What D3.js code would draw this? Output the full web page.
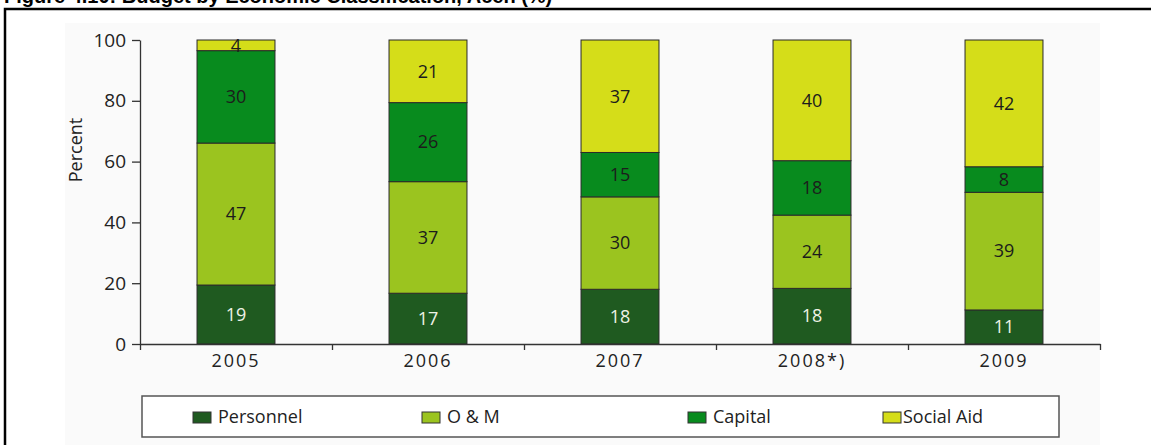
<!DOCTYPE html>
<html>
<head>
<meta charset="utf-8">
<script src="https://cdn.jsdelivr.net/npm/d3@7"></script>
<style>
  body { margin: 0; background: #fff; }
  svg { display: block; font-family: "Open Sans", sans-serif; }
</style>
</head>
<body>
<div id="chart"></div>
<script>
// data (percent of budget)
const years = ["2005", "2006", "2007", "2008*)", "2009"]
const personnel = [19.4, 16.7, 18.0, 18.3, 11.2]
const om = [46.7, 36.7, 30.4, 24.1, 38.7]
const capital = [30.4, 26.0, 14.6, 17.9, 8.4]
const socialAid = [3.5, 20.6, 37.0, 39.7, 41.7]
const seriesNames = ["Personnel", "O & M", "Capital", "Social Aid"]
const yTicks = [0, 20, 40, 60, 80, 100]

const colors = ["#1f5a20", "#9bc41f", "#088b1e", "#d5dd19"]
const labelColors = ["#eef2e6", "#1c1c1c", "#1c1c1c", "#1c1c1c"]

const width = 1151, height = 445

const svg = d3.select("#chart").append("svg")
    .attr("width", width)
    .attr("height", height)

// title, only its lower edge shows at the top of the picture
svg.append("text")
    .attr("x", 4)
    .attr("y", 3)
    .attr("font-family", "Liberation Sans, sans-serif")
    .attr("font-weight", "bold")
    .attr("font-size", 20)
    .text("Figure 4.10: Budget by Economic Classification, Aceh (%)")

// outer frame
svg.append("rect")
    .attr("x", 5).attr("y", 9)
    .attr("width", 1300).attr("height", 600)
    .attr("fill", "#fff")
    .attr("stroke", "#000").attr("stroke-width", 2.5)

// light plot panel
svg.append("rect")
    .attr("x", 65).attr("y", 23)
    .attr("width", 1035).attr("height", 440)
    .attr("fill", "#fafafa")

const table = years.map((yr, i) => ({
    year: yr,
    "Personnel": personnel[i],
    "O & M": om[i],
    "Capital": capital[i],
    "Social Aid": socialAid[i]
}))

const stacked = d3.stack().keys(seriesNames)(table)

const x = d3.scaleBand()
    .domain(years)
    .range([140, 1100])
    .paddingInner(0.594)
    .paddingOuter(0.297)

const y = d3.scaleLinear()
    .domain([0, 100])
    .range([344, 40])

// bars
const layers = svg.selectAll("g.layer")
    .data(stacked)
    .enter().append("g")
    .attr("class", "layer")

layers.selectAll("rect")
    .data(d => d)
    .enter().append("rect")
    .attr("x", d => x(d.data.year))
    .attr("y", d => y(d[1]))
    .attr("width", x.bandwidth())
    .attr("height", d => y(d[0]) - y(d[1]))
    .attr("fill", function () { return colors[d3.select(this.parentNode).datum().index] })
    .attr("stroke", "#2a2a2a")
    .attr("stroke-width", 1)

layers.each(function (s) {
    d3.select(this).selectAll("text")
        .data(s)
        .enter().append("text")
        .attr("x", d => x(d.data.year) + x.bandwidth() / 2)
        .attr("y", d => (y(d[0]) + y(d[1])) / 2)
        .attr("dy", "0.35em")
        .attr("text-anchor", "middle")
        .attr("font-size", 18)
        .attr("fill", labelColors[s.index])
        .text(d => Math.round(d[1] - d[0]))
})

// y axis
const yAxis = d3.axisLeft(y)
    .tickValues(yTicks)
    .tickSize(8)
    .tickSizeOuter(0)
    .tickPadding(6)

const gy = svg.append("g")
    .attr("transform", "translate(140,0)")
    .call(yAxis)
gy.selectAll("text").attr("font-size", 19).attr("fill", "#222").attr("font-family", "Open Sans, sans-serif")
gy.selectAll("line, path").attr("stroke", "#333").attr("stroke-width", 1.3)

// x axis: ticks on band boundaries
const xEdge = d3.scaleLinear().domain([0, years.length]).range([140, 1100])
const gx = svg.append("g")
    .attr("transform", "translate(0,344)")
    .call(d3.axisBottom(xEdge).ticks(years.length).tickFormat("").tickSize(6).tickSizeOuter(0))
gx.selectAll("line, path").attr("stroke", "#333").attr("stroke-width", 1.3)

const gxl = svg.append("g")
    .attr("transform", "translate(0,344)")
    .call(d3.axisBottom(x).tickSize(0).tickPadding(10))
gxl.select(".domain").remove()
gxl.selectAll("text")
    .attr("font-size", 18)
    .attr("letter-spacing", "2px")
    .attr("fill", "#222")
    .attr("font-family", "Open Sans, sans-serif")

svg.append("text")
    .attr("transform", "translate(82,150) rotate(-90)")
    .attr("text-anchor", "middle")
    .attr("font-size", 18)
    .attr("fill", "#222")
    .text("Percent")

// legend
svg.append("rect")
    .attr("x", 142).attr("y", 396)
    .attr("width", 917).attr("height", 41)
    .attr("fill", "#fff")
    .attr("stroke", "#555").attr("stroke-width", 1.5)

const legendX = [193, 422, 688, 883]
const legend = svg.selectAll("g.legend")
    .data(seriesNames)
    .enter().append("g")
    .attr("class", "legend")
    .attr("transform", (d, i) => `translate(${legendX[i]},412)`)

legend.append("rect")
    .attr("width", 18).attr("height", 11)
    .attr("fill", (d, i) => colors[i])
    .attr("stroke", "#333").attr("stroke-width", 1)

legend.append("text")
    .attr("x", (d, i) => i === 3 ? 20 : 25)
    .attr("y", 11)
    .attr("font-size", 18)
    .attr("fill", "#222")
    .text(d => d)
</script>
</body>
</html>
